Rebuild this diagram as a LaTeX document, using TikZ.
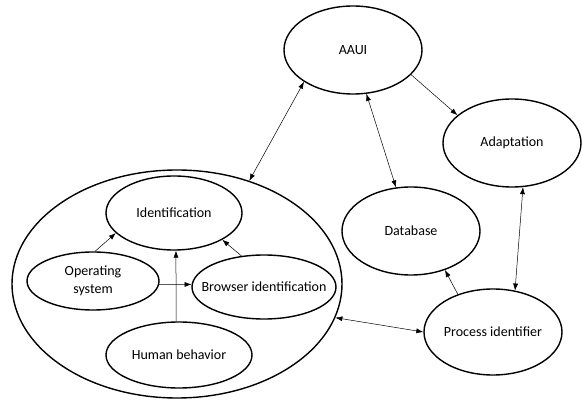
\documentclass[tikz,border=0pt]{standalone}
\usepackage{fontspec}
\setmainfont{Carlito}
\usetikzlibrary{arrows.meta}
\usetikzlibrary{shapes}

\begin{document}
\begin{tikzpicture}[x=1pt, y=-1pt, font=\fontsize{14}{18}\selectfont,
		ell/.style={draw, ellipse, line width=1.4pt, inner sep=0pt},
		arr/.style={-{Latex[length=7pt, width=5pt]}, line width=0.5pt},
		darr/.style={{Latex[length=7pt, width=5pt]}-{Latex[length=7pt, width=5pt]}, line width=0.5pt}]
		\useasboundingbox (0,0) rectangle (582,401);

		% outer group
		\node[ell, minimum width=330pt, minimum height=228pt] (sys) at (177,284) {};
		\node[ell, minimum width=136pt, minimum height=74pt, label=center:Identification] (idn) at (174,213) {};
		\node[ell, minimum width=132pt, minimum height=58pt, label={[align=center]center:{Operating\\system}}] (os) at (93,281) {};
		\node[ell, minimum width=144pt, minimum height=64pt, label=center:Browser identification] (brw) at (264,287) {};
		\node[ell, minimum width=146pt, minimum height=66pt, label=center:Human behavior] (hum) at (179,355) {};

		% right side
		\node[ell, minimum width=138pt, minimum height=88pt, label=center:AAUI] (aaui) at (353,50) {};
		\node[ell, minimum width=138pt, minimum height=88pt, label=center:Adaptation] (adp) at (512,143) {};
		\node[ell, minimum width=138pt, minimum height=88pt, label=center:Database] (db) at (411,231) {};
		\node[ell, minimum width=138pt, minimum height=86pt, label=center:Process identifier] (pid) at (493,332) {};

		\draw[darr] (aaui.213) -- (sys.55);
		\draw[darr] (aaui.287) -- (db.109);
		\draw[arr] (aaui.337) -- (adp.153);
		\draw[darr] (adp.284) -- (pid.62);
		\draw[arr] (pid.133) -- (db.311);
		\draw[darr] (sys.348) -- (pid.180);

		\draw[arr] (os.86) -- (idn.199);
		\draw[arr] (os.357) -- (brw.178);
		\draw[arr] (hum.95) -- (idn.273);
		\draw[arr] (brw.126) -- (idn.331);
\end{tikzpicture}
\end{document}
